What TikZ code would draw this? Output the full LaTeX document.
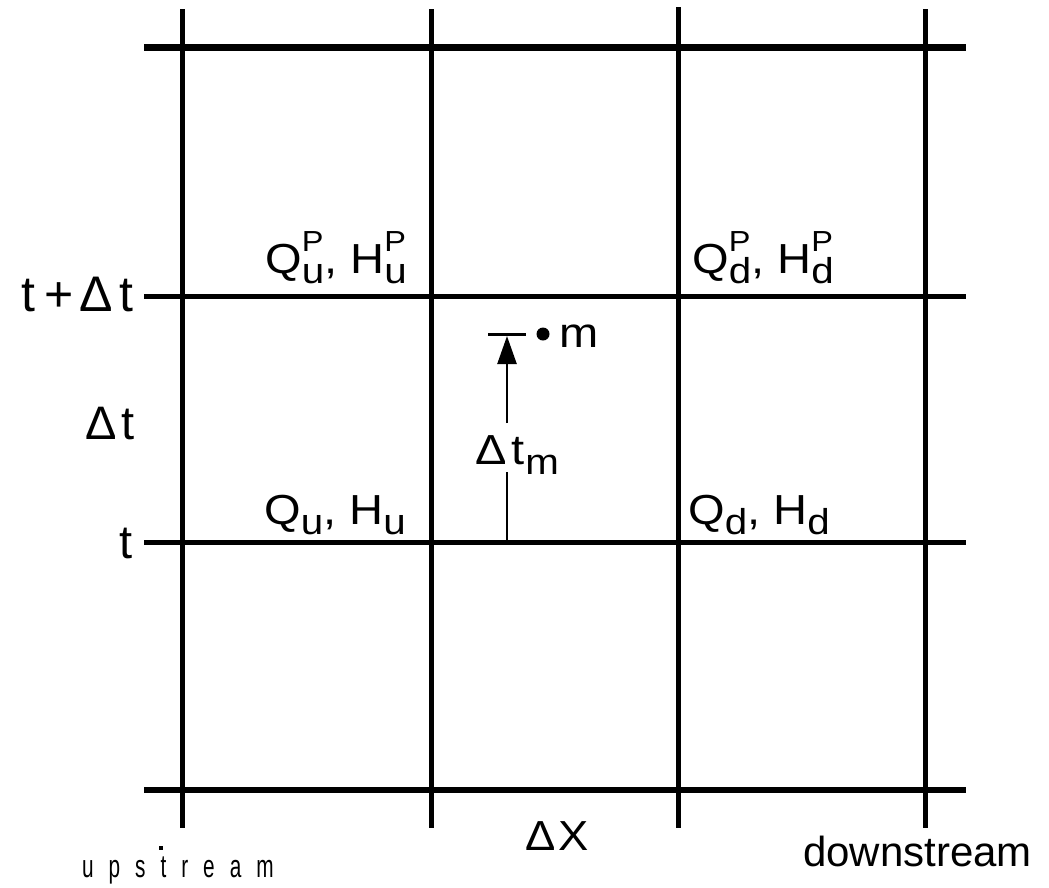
\documentclass[tikz,border=0pt]{standalone}
\usepackage{fontspec}
\setmainfont{Liberation Sans}
\newfontfamily\spacedfont[LetterSpace=72]{Liberation Sans}
\usetikzlibrary{arrows.meta}
\newcommand\subsup[2]{\rlap{\raisebox{0.52em}{\fontsize{29}{30}\selectfont #2}}\raisebox{-0.24em}{\fontsize{36}{38}\selectfont #1}}
\newcommand\subonly[1]{\raisebox{-0.24em}{\fontsize{36}{38}\selectfont #1}}
\begin{document}
\begin{tikzpicture}[x=1pt,y=-1pt,
  gridline/.style={line width=5pt,black},
  axislabel/.style={inner sep=0pt,font=\fontsize{47}{50}\selectfont},
  qlabel/.style={inner sep=0pt,xscale=1.12,font=\fontsize{42}{46}\selectfont},
  botlabel/.style={inner sep=0pt,font=\fontsize{42}{44}\selectfont}]
\useasboundingbox (0,0) rectangle (1049,887);
% grid coordinates
\foreach \n/\x/\t in {A/182/9,B/431/9,C/678/7,D/925/9}{
  \coordinate (\n top) at (\x,\t);
  \coordinate (\n bot) at (\x,828);
}
\foreach \n/\y in {H1/47,H2/296,H3/542,H4/790}{
  \coordinate (\n l) at (144,\y);
  \coordinate (\n r) at (966,\y);
}
\foreach \n in {A,B,C,D}{\draw[gridline] (\n top) -- (\n bot);}
\draw[gridline,line width=7pt] (H1l) -- (H1r);
\draw[gridline] (H2l) -- (H2r);
\draw[gridline] (H3l) -- (H3r);
\draw[gridline,line width=6pt] (H4l) -- (H4r);
% axis labels
\node[axislabel,anchor=base east,font=\fontsize{50}{52}\selectfont] (ttdt) at (134,311) {t\hspace{9pt}+\hspace{6pt}Δ\hspace{7pt}t};
\node[axislabel,anchor=base east] (dt) at (135,439) {Δ\hspace{5pt}t};
\node[axislabel,anchor=base east] (t) at (133,558) {t};
% Q H labels
\node[qlabel,anchor=base east] (qup) at (407,273) {Q\subsup{u}{P}, H\subsup{u}{P}};
\node[qlabel,anchor=base west] (qdp) at (692,273) {Q\subsup{d}{P}, H\subsup{d}{P}};
\node[qlabel,anchor=base east] (qu) at (406,524) {Q\subonly{u}, H\subonly{u}};
\node[qlabel,anchor=base west] (qd) at (688,524) {Q\subonly{d}, H\subonly{d}};
% delta t_m arrow
\node[qlabel,anchor=base west] (dtm) at (475,464) {Δ\hspace{4pt}t\hspace{1pt}\subonly{m}};
\coordinate (stemlow) at (507,542);
\coordinate (stemtop) at (507,472);
\coordinate (arrlow) at (507,423);
\coordinate (arrtip) at (507,336);
\coordinate (barl) at (488,334);
\coordinate (barr) at (526,334);
\draw[line width=2.5pt] (stemlow) -- (stemtop);
\draw[line width=2.5pt,-{Triangle[width=19pt,length=28pt]}] (arrlow) -- (arrtip);
\draw[line width=3pt] (barl) -- (barr);
\fill (543,334) circle (6.5pt) coordinate (mdot);
\node[qlabel,anchor=base west] (mlab) at (559,347) {m};
% bottom labels
\node[botlabel,anchor=base west,xscale=1.08] (dx) at (525,850) {Δ\hspace{3pt}X};
\node[botlabel,anchor=base east] (down) at (1032,866) {downstream};
\node[inner sep=0pt,anchor=base west,font=\spacedfont\fontsize{32}{34}\selectfont,xscale=0.65] (up) at (82,877) {upstream};
\fill (159,846) rectangle (163,850);
\end{tikzpicture}
\end{document}
